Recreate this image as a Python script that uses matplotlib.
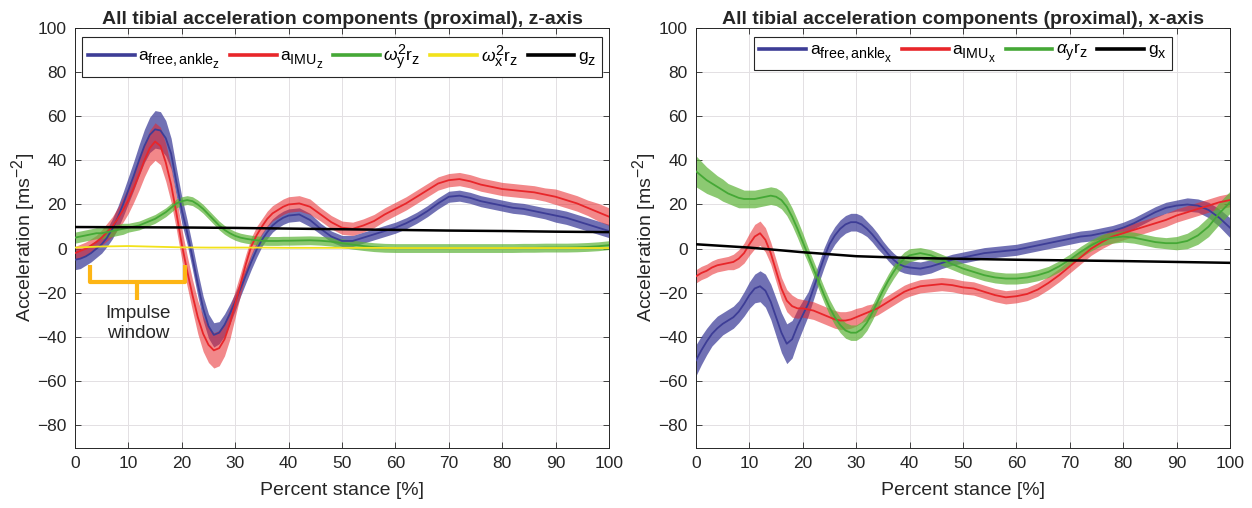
import numpy as np
import matplotlib
matplotlib.use("Agg")
import matplotlib.pyplot as plt

plt.rcParams["font.family"] = ["Liberation Sans", "DejaVu Sans"]
plt.rcParams["mathtext.fontset"] = "custom"
plt.rcParams["mathtext.rm"] = "Liberation Sans"
plt.rcParams["mathtext.it"] = "Liberation Sans:italic"
plt.rcParams["mathtext.default"] = "regular"

# MATLAB's tex interpreter keeps sub/superscripts larger and lower than
# mathtext does, nudge the (private) constants a bit
try:
    import matplotlib._mathtext as _mt
    _mt.SHRINK_FACTOR = 0.82
    _mt.FontConstantsBase.sub1 = 0.5
    _mt.FontConstantsBase.sub2 = 0.6
except (ImportError, AttributeError):
    pass

# percent stance grid: 1 % steps up to 40 %, 2 % steps after
stance = np.r_[np.arange(0, 40), np.arange(40, 101, 2)]
stance_10 = np.arange(0, 101, 10)
stance_5 = np.arange(0, 101, 5)

# ---------------- z-axis (left) ----------------
az_free = [-5, -4.5, -3.5, -2, 0, 2, 5, 9, 14, 20,
           26.5, 33, 40, 46.5, 51.5, 54, 53.5, 50, 43, 30,
           17.5, 7.5, -4, -16, -27, -35, -39, -38, -34.5, -29.5,
           -24, -18, -12, -6, -0.5, 4, 7.5, 10.5, 12.5, 14,
           15, 15.5, 13, 9, 5.5, 3.5, 3.5, 5, 6.5, 8,
           9.5, 11.5, 14, 17, 20.5, 23.5, 24, 23, 21.5, 20.5,
           19.5, 18.5, 18, 17, 16, 15, 14, 12.5, 11, 9.5,
           8]
az_free_sd = [4.5, 4.5, 4, 4, 4, 4, 4, 4.5, 5, 5.5,
              6, 6.5, 7, 7.5, 8, 8.5, 8.5, 8, 7, 6.5,
              6, 5.5, 5.5, 5.5, 5.5, 5.5, 5.5, 5, 5, 4.5,
              4, 3.5, 3.5, 3.5, 3.5, 3, 3, 3, 3, 3,
              3, 3, 3, 2.5, 2.5, 2.5, 2.5, 2.5, 2.5, 2.5,
              2.5, 2.5, 2.5, 2.5, 2.5, 2.5, 2.5, 2.5, 2.5, 2.5,
              2.5, 2.5, 2.5, 2.5, 2.5, 3, 3, 3, 3, 3,
              3]
az_imu = [-2, -1, 0, 1.5, 3, 5, 7.5, 10, 13.5, 17.5,
          22, 27.5, 33.5, 40, 45.5, 48.5, 46.5, 39, 29, 16,
          2, -10, -21, -31, -38.5, -43.5, -46, -45, -41, -34,
          -25, -16, -7, 1, 6, 10, 13.5, 16, 17.5, 19,
          20, 20.5, 19, 15.5, 12, 9.5, 9, 10.5, 12.5, 15.5,
          18, 20.5, 23.5, 26.5, 29.5, 31, 31.5, 30.5, 29, 28,
          27, 26.5, 26, 25.5, 24.5, 23.5, 22, 20.5, 18.5, 16.5,
          14.5]
az_imu_sd = [3, 3, 3, 3, 3, 3.5, 4, 4.5, 5, 5.5,
             6, 6.5, 7, 7.5, 8, 8.5, 8.5, 8.5, 8, 7.5,
             7, 7, 7, 7.5, 8, 8, 8, 8, 7.5, 7,
             6, 5, 4.5, 4, 4, 3.5, 3.5, 3.5, 3.5, 3.5,
             3.5, 3.5, 3.5, 3, 3, 3, 3, 3, 3, 3,
             3, 3, 3, 3, 3, 3, 3, 3, 3, 3,
             3, 3, 3, 3, 3, 3.5, 3.5, 3.5, 3.5, 4,
             4]
az_wy2 = [5, 5.5, 6, 6.5, 7, 7, 7.5, 8, 8.5, 9,
          9.5, 10, 10.5, 11.5, 12.5, 13.5, 15, 16.5, 18.5, 20.5,
          21.5, 22, 21.5, 20, 18, 15.5, 13, 10.5, 8.5, 7,
          5.8, 5, 4.5, 4.1, 3.8, 3.6, 3.5, 3.5, 3.5, 3.6,
          3.6, 3.7, 3.8, 3.6, 3.2, 2.5, 1.8, 1.2, 0.7, 0.4,
          0.3, 0.3, 0.3, 0.3, 0.3, 0.3, 0.3, 0.3, 0.3, 0.3,
          0.3, 0.3, 0.4, 0.4, 0.5, 0.5, 0.5, 0.6, 0.8, 1.1,
          1.6]
az_wy2_sd = [2.5, 2.5, 2.5, 2.5, 2.5, 2.5, 2.5, 2.5, 2.5, 2.5,
             2, 2, 2, 2, 2, 2, 2, 2, 2, 2,
             2, 2, 2, 2, 2, 2, 2, 2, 2, 2,
             2, 2, 2, 2, 2, 2, 2, 2, 2, 2,
             2, 2, 2, 2, 2, 2, 2, 2, 2, 2,
             2, 2, 2, 2, 2, 2, 2, 2, 2, 2,
             2, 2, 2, 2, 2, 2, 2, 2, 2, 2,
             2]
az_wx2 = [0.5, 1.0, 1.2, 0.9, 0.6, 0.5, 0.5, 0.5, 0.4, 0.4, 0.4,
          0.4, 0.3, 0.3, 0.3, 0.3, 0.3, 0.3, 0.3, 0.3, 0.3]
gz = [9.8, 9.7, 9.6, 9.4, 9.1, 8.8, 8.5, 8.2, 8.0, 7.7, 7.5]

# ---------------- x-axis (right) ----------------
ax_free = [-50.5, -46, -42, -38.5, -36, -34, -32.5, -31, -28.5, -25,
           -21, -18, -17, -19, -24, -31, -38, -43, -41, -35,
           -30, -25, -18, -11, -4, 2, 6, 9, 11, 12,
           12, 11, 9, 6.5, 3.5, 0.5, -2.5, -5, -7, -8,
           -8.5, -9, -8, -6.5, -5, -4, -3, -2, -1.5, -1,
           -0.5, 0.5, 1.5, 2.5, 3.5, 4.5, 5.5, 6, 7, 8,
           9.5, 11.5, 14, 16.5, 18.5, 19.5, 20, 19.5, 17.5, 14,
           9.5]
ax_free_sd = [7, 6.5, 6, 5.5, 5.5, 5, 5, 5, 5, 5.5,
              6, 6.5, 7, 7.5, 8, 8.5, 9, 9, 8.5, 7.5,
              6.5, 5.5, 5, 4.5, 4.5, 4, 4, 4, 4, 4,
              4, 4, 3.5, 3.5, 3.5, 3, 3, 3, 3, 3,
              3, 3, 3, 2.5, 2.5, 2.5, 2.5, 2.5, 2.5, 2.5,
              2.5, 2.5, 2.5, 2.5, 2.5, 2.5, 2.5, 2.5, 2.5, 2.5,
              2.5, 2.5, 2.5, 2.5, 2.5, 2.5, 3, 3, 3.5, 4,
              4.5]
ax_imu = [-12.5, -11, -10, -8.5, -7.5, -7, -6.5, -6, -4.5, -2,
          2, 5.5, 7, 4, -2, -10, -18, -23.5, -26, -27,
          -27, -27.5, -28, -29, -30, -31, -32, -32.5, -32.5, -32,
          -31, -30, -29, -28, -27, -25.5, -24, -22.5, -21, -19.5,
          -18.5, -17, -16.5, -16, -16.5, -17.5, -18, -19.5, -21, -22,
          -21.5, -20.5, -18.5, -15.5, -12, -8, -4, 0, 3, 5.5,
          7, 8.5, 10, 11.5, 13, 15, 16.5, 18, 19.5, 21,
          22]
ax_imu_sd = [3, 3, 3, 3, 3, 3, 3, 3.5, 4, 4.5,
             5, 5.5, 5.5, 5.5, 5, 5, 5, 5, 5, 4.5,
             4, 4, 4, 4, 4, 4, 4, 4, 4, 4,
             4, 3.5, 3.5, 3, 3, 3, 3, 3, 3, 3,
             3, 3, 3, 3, 3, 3, 3, 3, 3, 3,
             3, 3, 3, 3, 3, 3, 3, 3, 3, 3,
             3, 3, 3, 3, 3, 3, 3, 3, 3, 3,
             3]
ax_alpha = [35, 33, 31, 29.5, 28, 26.5, 25, 24, 23, 22.5,
            22.5, 22.5, 23, 23.5, 24, 23.5, 22, 19, 14.5, 9,
            3, -3, -9, -15, -21, -26.5, -31, -34.5, -37, -38,
            -38, -36.5, -33.5, -29, -24, -19, -14.5, -10.5, -7, -4.5,
            -3, -2, -3, -5, -7, -9, -10.5, -12, -13, -13.5,
            -13.5, -13, -12, -10.5, -8, -5, -1.5, 1.5, 4, 5,
            5.5, 5, 4, 3, 2.5, 2.5, 3.5, 6, 10, 16,
            21]
ax_alpha_sd = [7, 6.5, 6, 5.5, 5, 5, 4.5, 4.5, 4.5, 4,
               4, 4, 4, 4, 4, 4, 4, 4, 4, 4,
               4, 3.5, 3.5, 3.5, 3.5, 3.5, 3.5, 3.5, 3.5, 3.5,
               3.5, 3.5, 3.5, 3.5, 3.5, 3, 3, 3, 3, 3,
               3, 2.5, 2.5, 2.5, 2.5, 2.5, 2.5, 2.5, 2.5, 2.5,
               2.5, 2.5, 2.5, 2.5, 2.5, 2.5, 2.5, 2.5, 2.5, 2.5,
               2.5, 2.5, 2.5, 2.5, 2.5, 3, 3.5, 4, 4.5, 5,
               5]
gx = [2.0, 0.5, -1.6, -3.4, -4.2, -4.6, -5.0, -5.3, -5.6, -6.0, -6.4]

BLUE, BLUE_FILL = "#3d3d96", "#3b3b98"
RED, RED_FILL = "#e8262a", "#e8262a"
GREEN, GREEN_FILL = "#45a836", "#5cb236"
YELLOW = "#f2e21b"
ORANGE = "#fdb515"
TXT = "#262626"


def band(ax, x, mean, sd, line_c, fill_c, alpha, label):
    mean, sd = np.asarray(mean), np.asarray(sd)
    ax.fill_between(x, mean - sd, mean + sd, color=fill_c, alpha=alpha,
                    lw=0, zorder=2)
    ax.plot(x, mean, color=line_c, lw=1.3, zorder=3, label=label)


def style(ax, title):
    ax.set_xlim(0, 100)
    ax.set_ylim(-90, 100)
    ax.set_xticks(np.arange(0, 101, 10))
    ax.set_yticks(np.arange(-80, 101, 20))
    ax.grid(True, color="#e3e0e3", lw=0.7, zorder=0)
    ax.set_axisbelow(True)
    ax.tick_params(direction="in", top=True, right=True, length=4,
                   width=0.6, labelsize=12.5, colors=TXT, pad=6)
    for s in ax.spines.values():
        s.set_color(TXT)
        s.set_linewidth(0.7)
    ax.set_title(title, fontsize=14, fontweight="bold", color=TXT, pad=3)
    ax.set_xlabel("Percent stance [%]", fontsize=14, color=TXT, labelpad=8)
    ax.set_ylabel(r"Acceleration [ms$^{-2}$]", fontsize=14, color=TXT)
    ax.yaxis.set_label_coords(-0.069, 0.5)


fig = plt.figure(figsize=(12.52, 5.08), dpi=100)
axL = fig.add_axes([0.0599, 0.1189, 0.4265, 0.8266])
axR = fig.add_axes([0.5559, 0.1189, 0.4265, 0.8266])

# left panel
band(axL, stance, az_free, az_free_sd, BLUE, BLUE_FILL, 0.72,
     r"$a_{free,ankle_z}$")
band(axL, stance, az_imu, az_imu_sd, RED, RED_FILL, 0.55, r"$a_{IMU_z}$")
band(axL, stance, az_wy2, az_wy2_sd, GREEN, GREEN_FILL, 0.7,
     r"$\mathit{\omega}_y^2r_z$")
axL.plot(stance_5, az_wx2, color=YELLOW, lw=1.3, zorder=3,
         label=r"$\mathit{\omega}_x^2r_z$")
axL.plot(stance_10, gz, color="black", lw=1.8, zorder=4, label=r"$g_z$")
style(axL, "All tibial acceleration components (proximal), z-axis")

# impulse window brace
axL.plot([2.8, 2.8, 20.6, 20.6], [-7.4, -15, -15, -7.4], color=ORANGE,
         lw=3, solid_joinstyle="round", solid_capstyle="butt", zorder=5)
axL.plot([11.7, 11.7], [-15, -23.2], color=ORANGE, lw=3,
         solid_capstyle="butt", zorder=5)
axL.text(11.8, -34, "Impulse\nwindow", ha="center", va="center",
         fontsize=13.5, color=TXT, linespacing=1.25, zorder=6)

# right panel
band(axR, stance, ax_free, ax_free_sd, BLUE, BLUE_FILL, 0.72,
     r"$a_{free,ankle_x}$")
band(axR, stance, ax_imu, ax_imu_sd, RED, RED_FILL, 0.55, r"$a_{IMU_x}$")
band(axR, stance, ax_alpha, ax_alpha_sd, GREEN, GREEN_FILL, 0.7,
     r"$\mathit{\alpha}_yr_z$")
axR.plot(stance_10, gx, color="black", lw=1.8, zorder=4, label=r"$g_x$")
style(axR, "All tibial acceleration components (proximal), x-axis")

for ax, ncol in ((axL, 5), (axR, 4)):
    leg = ax.legend(loc="upper center", ncol=ncol, fontsize=12.5,
                    handlelength=2.7, handletextpad=0.2, columnspacing=0.55,
                    borderaxespad=0.55, borderpad=0.3, fancybox=False,
                    framealpha=1, edgecolor=TXT)
    leg.get_frame().set_linewidth(0.8)
    for h in leg.get_lines():
        h.set_linewidth(2.6)

fig.savefig("out.png", dpi=100)
